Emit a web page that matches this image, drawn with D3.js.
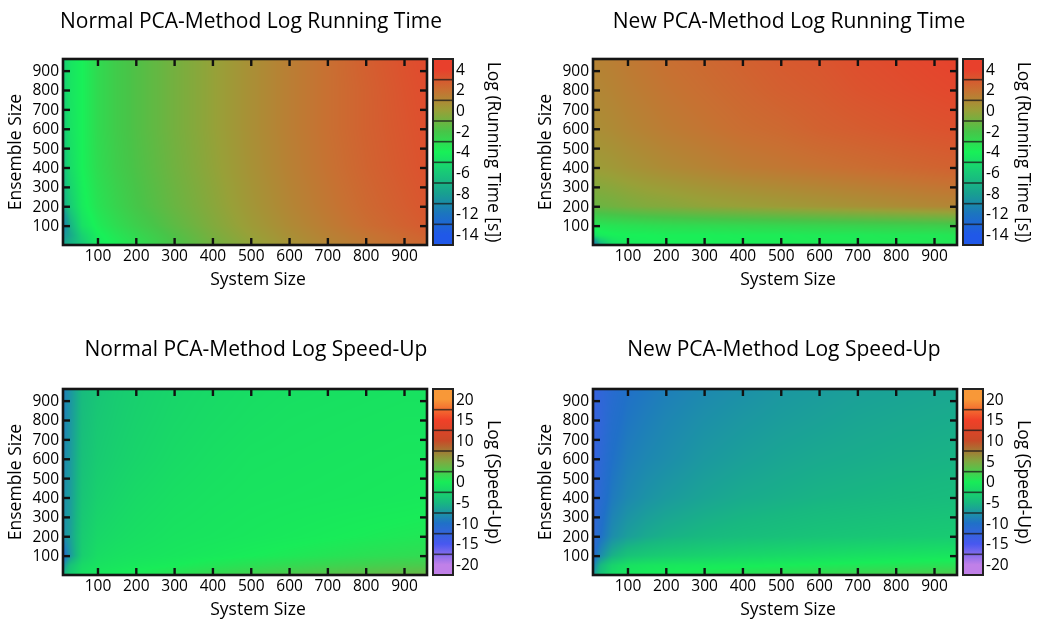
<!doctype html>
<html lang="en">
<head>
<meta charset="utf-8">
<title>PCA running time and speed-up</title>
<style>
  * { margin: 0; padding: 0; box-sizing: border-box; }
  body { background: #fff; width: 1042px; height: 619px; overflow: hidden; }
  #chart { position: relative; width: 1042px; height: 619px; }
  #chart canvas, #chart svg { position: absolute; left: 0; top: 0; }
  text { font-family: "Open Sans", sans-serif; fill: #000; }
</style>
</head>
<body>
<div id="chart"></div>
<script src="https://cdn.jsdelivr.net/npm/d3@7"></script>
<script>
const W = 1042, H = 619;

// sample positions
const systemSizes = [10, 30, 60, 100, 150, 200, 300, 400, 500, 600, 700, 800, 900, 960];
const ensembleSizes = [0, 50, 100, 200, 400, 600, 800, 960];
const axisTicks = [100, 200, 300, 400, 500, 600, 700, 800, 900];

// colour bars (top to bottom)
const timeLevels = [4, 2, 0, -2, -4, -6, -8, -12, -14];
const timeColors = ['#e8402c', '#c87032', '#98a038', '#48c448', '#18f058', '#18c878', '#18a090', '#1c74c0', '#2058e8'];
const speedLevels = [20, 15, 10, 5, 0, -5, -10, -15, -20];
const speedColors = ['#f89838', '#f04028', '#c84a28', '#80a840', '#18ec58', '#18b880', '#2070c8', '#4858f0', '#c080e8'];

// log values, one row per ensemble size (bottom row first), one column per system size
const normalTime = [
  [-7.5, -7.0, -6.0, -4.4, -3.8, -3.2, -2.0, -1.0, -0.2, 0.5, 1.1, 1.6, 2.1, 2.3],
  [-9.0, -7.5, -5.5, -4.2, -3.5, -2.9, -1.8, -0.8, 0.0, 0.7, 1.3, 1.8, 2.3, 2.6],
  [-11.0, -7.0, -4.8, -3.8, -3.1, -2.5, -1.5, -0.6, 0.2, 0.9, 1.5, 2.1, 2.6, 2.9],
  [-7.5, -5.8, -4.3, -3.4, -2.7, -2.1, -1.2, -0.4, 0.4, 1.1, 1.7, 2.3, 2.8, 3.1],
  [-6.5, -5.0, -4.0, -3.1, -2.4, -1.9, -1.0, -0.2, 0.6, 1.3, 1.9, 2.5, 3.0, 3.3],
  [-6.0, -4.7, -4.0, -3.0, -2.3, -1.8, -0.9, -0.1, 0.7, 1.4, 2.0, 2.6, 3.1, 3.4],
  [-5.8, -4.6, -4.0, -3.0, -2.3, -1.8, -0.9, -0.1, 0.7, 1.4, 2.0, 2.6, 3.2, 3.5],
  [-5.8, -4.6, -4.0, -3.0, -2.3, -1.8, -0.9, -0.1, 0.7, 1.4, 2.0, 2.7, 3.3, 3.6]
];
const newTime = [
  [-12.0, -7.0, -5.0, -4.3, -4.1, -4.0, -3.9, -3.9, -3.8, -3.8, -3.7, -3.7, -3.6, -3.6],
  [-5.0, -4.3, -4.1, -4.0, -4.0, -3.9, -3.9, -3.8, -3.8, -3.7, -3.7, -3.6, -3.6, -3.5],
  [-3.6, -3.5, -3.4, -3.3, -3.2, -3.1, -3.0, -2.9, -2.8, -2.7, -2.6, -2.5, -2.4, -2.3],
  [-1.2, -1.1, -1.0, -0.8, -0.6, -0.5, -0.2, 0.0, 0.2, 0.4, 0.6, 0.8, 1.0, 1.1],
  [0.1, 0.2, 0.3, 0.5, 0.7, 0.9, 1.2, 1.5, 1.7, 1.9, 2.1, 2.3, 2.5, 2.6],
  [0.7, 0.8, 0.9, 1.1, 1.3, 1.5, 1.8, 2.1, 2.3, 2.6, 2.8, 3.0, 3.2, 3.3],
  [1.0, 1.1, 1.2, 1.4, 1.6, 1.8, 2.1, 2.4, 2.7, 2.9, 3.2, 3.4, 3.6, 3.7],
  [1.2, 1.3, 1.4, 1.6, 1.8, 2.0, 2.3, 2.6, 2.9, 3.1, 3.4, 3.6, 3.8, 3.9]
];
const normalSpeed = [
  [-5.0, -3.0, -1.2, -0.5, -0.1, 0.3, 0.9, 1.5, 2.1, 2.6, 3.1, 3.5, 3.8, 3.9],
  [-8.0, -4.0, -1.8, -1.0, -0.7, -0.4, 0.0, 0.5, 0.9, 1.3, 1.7, 2.0, 2.3, 2.4],
  [-11.0, -7.0, -2.8, -1.5, -1.1, -0.9, -0.6, -0.3, 0.0, 0.3, 0.6, 0.9, 1.1, 1.2],
  [-8.0, -6.5, -3.2, -2.0, -1.6, -1.3, -0.9, -0.7, -0.5, -0.3, -0.1, 0.1, 0.3, 0.4],
  [-8.0, -6.8, -3.8, -2.7, -2.2, -1.8, -1.3, -1.0, -0.8, -0.7, -0.6, -0.5, -0.4, -0.3],
  [-8.5, -7.0, -4.2, -3.2, -2.7, -2.3, -1.7, -1.3, -1.0, -0.9, -0.8, -0.7, -0.6, -0.6],
  [-9.0, -7.2, -4.5, -3.5, -3.0, -2.6, -2.0, -1.6, -1.3, -1.1, -1.0, -0.9, -0.8, -0.8],
  [-9.0, -7.3, -4.7, -3.8, -3.2, -2.8, -2.2, -1.8, -1.5, -1.3, -1.2, -1.1, -1.0, -1.0]
];
const newSpeed = [
  [-7.0, -4.0, -1.5, -0.5, 0.0, 0.3, 0.7, 1.0, 1.3, 1.6, 1.9, 2.2, 2.5, 2.6],
  [-9.0, -5.0, -2.5, -1.2, -0.8, -0.6, -0.4, -0.2, 0.0, 0.2, 0.4, 0.6, 0.8, 0.9],
  [-11.0, -8.0, -5.5, -4.0, -3.4, -3.0, -2.5, -2.1, -1.8, -1.5, -1.2, -1.0, -0.8, -0.7],
  [-12.0, -10.0, -8.0, -6.8, -6.0, -5.5, -4.9, -4.5, -4.2, -3.9, -3.7, -3.5, -3.3, -3.2],
  [-12.5, -11.0, -9.3, -8.3, -7.6, -7.1, -6.4, -5.9, -5.6, -5.3, -5.1, -4.9, -4.7, -4.6],
  [-13.0, -11.5, -10.0, -9.0, -8.4, -8.0, -7.2, -6.7, -6.3, -6.0, -5.8, -5.6, -5.4, -5.3],
  [-13.0, -12.0, -10.5, -9.6, -9.0, -8.5, -7.8, -7.3, -6.9, -6.6, -6.3, -6.1, -5.9, -5.8],
  [-13.0, -12.0, -11.0, -10.0, -9.5, -9.0, -8.3, -7.8, -7.3, -7.0, -6.7, -6.5, -6.3, -6.2]
];

const panels = [
  { title: 'Normal PCA-Method Log Running Time', grid: normalTime, levels: timeLevels, colors: timeColors,
    cbTitle: 'Log (Running Time [s])', x0: 63, y0: 59, titleX: 251, titleY: 28 },
  { title: 'New PCA-Method Log Running Time', grid: newTime, levels: timeLevels, colors: timeColors,
    cbTitle: 'Log (Running Time [s])', x0: 593, y0: 59, titleX: 789, titleY: 28 },
  { title: 'Normal PCA-Method Log Speed-Up', grid: normalSpeed, levels: speedLevels, colors: speedColors,
    cbTitle: 'Log (Speed-Up)', x0: 63, y0: 389, titleX: 256, titleY: 356 },
  { title: 'New PCA-Method Log Speed-Up', grid: newSpeed, levels: speedLevels, colors: speedColors,
    cbTitle: 'Log (Speed-Up)', x0: 593, y0: 389, titleX: 784, titleY: 356 }
];

const plotW = 364, plotH = 186, cbGap = 6, cbW = 20;

const chart = d3.select('#chart');
const canvas = chart.append('canvas').attr('width', W).attr('height', H);
const ctx = canvas.node().getContext('2d');
const svg = chart.append('svg').attr('width', W).attr('height', H);
const defs = svg.append('defs');

// bilinear read of the sampled grid
function sample(grid, sx, sy) {
  const nx = systemSizes.length, ny = ensembleSizes.length;
  const i = Math.max(0, Math.min(nx - 2, d3.bisectRight(systemSizes, sx) - 1));
  const j = Math.max(0, Math.min(ny - 2, d3.bisectRight(ensembleSizes, sy) - 1));
  const tx = Math.max(0, Math.min(1, (sx - systemSizes[i]) / (systemSizes[i + 1] - systemSizes[i])));
  const ty = Math.max(0, Math.min(1, (sy - ensembleSizes[j]) / (ensembleSizes[j + 1] - ensembleSizes[j])));
  const a = grid[j][i] * (1 - tx) + grid[j][i + 1] * tx;
  const b = grid[j + 1][i] * (1 - tx) + grid[j + 1][i + 1] * tx;
  return a * (1 - ty) + b * ty;
}

panels.forEach((p, k) => {
  const x = d3.scaleLinear().domain([10, 960]).range([p.x0, p.x0 + plotW]);
  const y = d3.scaleLinear().domain([0, 960]).range([p.y0 + plotH, p.y0]);
  const color = d3.scaleLinear().domain(p.levels).range(p.colors).clamp(true);

  // heat map
  const img = ctx.createImageData(plotW, plotH);
  for (let py = 0; py < plotH; py++) {
    const vy = y.invert(p.y0 + py + 0.5);
    for (let px = 0; px < plotW; px++) {
      const vx = x.invert(p.x0 + px + 0.5);
      const c = d3.rgb(color(sample(p.grid, vx, vy)));
      const o = (py * plotW + px) * 4;
      img.data[o] = c.r; img.data[o + 1] = c.g; img.data[o + 2] = c.b; img.data[o + 3] = 255;
    }
  }
  ctx.putImageData(img, p.x0, p.y0);

  const g = svg.append('g');

  // mirrored inward ticks
  const tickStyle = sel => {
    sel.select('.domain').remove();
    sel.selectAll('.tick line').attr('stroke', '#111').attr('stroke-width', 2.4);
    sel.selectAll('.tick text').style('font-size', '15.5px').attr('fill', '#000');
  };
  g.append('g').attr('transform', `translate(0,${p.y0 + plotH})`)
    .call(d3.axisBottom(x).tickValues(axisTicks).tickSizeInner(-7).tickSizeOuter(0).tickPadding(5))
    .call(tickStyle).attr('font-family', null);
  g.append('g').attr('transform', `translate(0,${p.y0})`)
    .call(d3.axisTop(x).tickValues(axisTicks).tickSizeInner(-7).tickSizeOuter(0).tickFormat(''))
    .call(tickStyle);
  g.append('g').attr('transform', `translate(${p.x0},0)`)
    .call(d3.axisLeft(y).tickValues(axisTicks).tickSizeInner(-7).tickSizeOuter(0).tickPadding(4))
    .call(tickStyle).attr('font-family', null);
  g.append('g').attr('transform', `translate(${p.x0 + plotW},0)`)
    .call(d3.axisRight(y).tickValues(axisTicks).tickSizeInner(-7).tickSizeOuter(0).tickFormat(''))
    .call(tickStyle);

  g.append('rect')
    .attr('x', p.x0).attr('y', p.y0).attr('width', plotW).attr('height', plotH)
    .attr('fill', 'none').attr('stroke', '#151515').attr('stroke-width', 2.6);

  // colour bar
  const cbX = p.x0 + plotW + cbGap;
  const band = d3.scaleBand().domain(p.levels).range([p.y0, p.y0 + plotH]);
  const gradId = 'cb' + k;
  const grad = defs.append('linearGradient').attr('id', gradId)
    .attr('x1', 0).attr('y1', 0).attr('x2', 0).attr('y2', 1);
  grad.selectAll('stop').data(p.levels).join('stop')
    .attr('offset', d => (band(d) + band.bandwidth() / 2 - p.y0) / plotH)
    .attr('stop-color', d => color(d));
  g.append('rect')
    .attr('x', cbX).attr('y', p.y0).attr('width', cbW).attr('height', plotH)
    .attr('fill', `url(#${gradId})`);
  g.selectAll('line.sep').data(p.levels.slice(1)).join('line')
    .attr('class', 'sep')
    .attr('x1', cbX).attr('x2', cbX + cbW)
    .attr('y1', d => band(d)).attr('y2', d => band(d))
    .attr('stroke', '#1a1a1a').attr('stroke-opacity', 0.75).attr('stroke-width', 1.6);
  g.append('rect')
    .attr('x', cbX).attr('y', p.y0).attr('width', cbW).attr('height', plotH)
    .attr('fill', 'none').attr('stroke', '#222').attr('stroke-width', 2);
  g.selectAll('text.cb').data(p.levels).join('text')
    .attr('class', 'cb')
    .attr('x', cbX + cbW + 3)
    .attr('y', d => band(d) + band.bandwidth() / 2)
    .attr('dy', '0.35em')
    .style('font-size', '15.5px')
    .text(d => d);

  // titles
  const midX = (p.x0 + cbX + cbW) / 2;
  g.append('text')
    .attr('x', p.titleX).attr('y', p.titleY)
    .attr('text-anchor', 'middle').style('font-size', '21px')
    .text(p.title);
  g.append('text')
    .attr('x', midX).attr('y', p.y0 + plotH + 40)
    .attr('text-anchor', 'middle').style('font-size', '17.5px')
    .text('System Size');
  g.append('text')
    .attr('transform', `translate(${p.x0 - 42},${p.y0 + plotH / 2}) rotate(-90)`)
    .attr('text-anchor', 'middle').style('font-size', '17.5px')
    .text('Ensemble Size');
  g.append('text')
    .attr('transform', `translate(${cbX + cbW + 35},${p.y0 + plotH / 2}) rotate(90)`)
    .attr('text-anchor', 'middle').style('font-size', '17.5px')
    .text(p.cbTitle);
});
</script>
</body>
</html>
